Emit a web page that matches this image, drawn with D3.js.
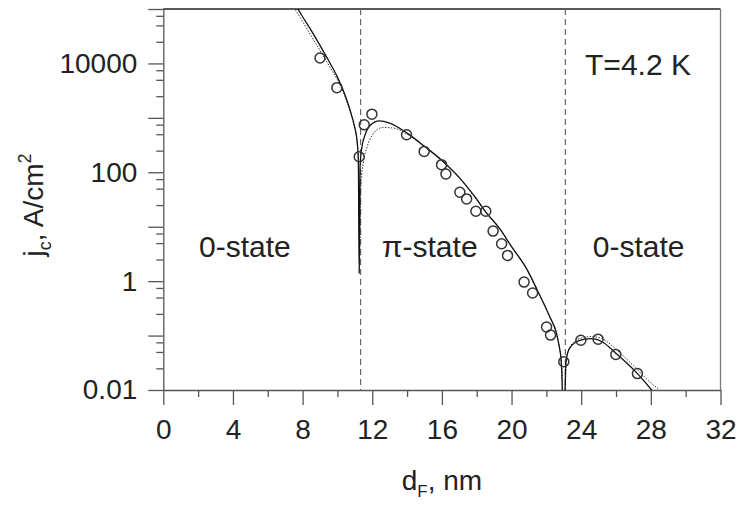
<!DOCTYPE html>
<html>
<head>
<meta charset="utf-8">
<script src="https://cdn.jsdelivr.net/npm/d3@7"></script>
<style>
  body { margin: 0; background: #fff; }
  text { font-family: "Liberation Sans", Arial, sans-serif; fill: #222; }
</style>
</head>
<body>
<div id="vis"></div>
<script>

var width = 741,
  height = 505;

var margin = { left: 163.3, right: 20.5, top: 9, bottom: 115 };

// measured points, d_F (nm) and j_c (A/cm2)
var dF = [ 9.0, 9.97, 11.25, 11.54, 11.98, 13.97, 14.98, 15.98, 16.23, 17.03, 17.42, 17.95, 18.52,
  18.94, 19.43, 19.77, 20.72, 21.21, 22.01, 22.24, 23.0, 23.98, 24.97, 25.99, 27.23 ];
var jc = [ 12600, 3590, 193, 745, 1170, 489, 242, 138, 93, 42.9, 32.4, 19.2, 19.2,
  8.3, 4.87, 2.97, 0.96, 0.605, 0.144, 0.102, 0.033, 0.082, 0.086, 0.045, 0.020 ];

// theory curve 1 (solid)
var solidX = [ 7.5, 8.0, 8.5, 9.0, 9.5, 10.0, 10.4, 10.7, 11.0, 11.1, 11.2, 11.25, 11.3, 11.4, 11.6,
  11.9, 12.4, 13.0, 14.0, 15.0, 16.0, 17.0, 18.0, 18.5, 19.33, 20.0, 20.86, 21.5, 22.2, 22.58,
  22.75, 22.85, 22.9, 22.93, 23.05, 23.08, 23.12, 23.3, 23.7, 24.2, 24.6, 25.2, 26.0, 27.23, 28.04, 28.4 ];
var solidY = [ 1.32e5, 7.2e4, 4.0e4, 2.14e4, 1.12e4, 5600, 2820, 1480, 660, 450, 180, 1.4, 125, 280, 500,
  740, 880, 800, 525, 300, 165, 80, 32, 19, 9.1, 4.3, 1.7, 0.66, 0.22, 0.11,
  0.06, 0.035, 0.015, 0.005, 0.005, 0.012, 0.032, 0.056, 0.076, 0.086, 0.088, 0.077, 0.047, 0.020, 0.010, 0.007 ];

// theory curve 2 (dotted)
var dotX = [ 7.4, 8.0, 8.5, 9.0, 9.5, 10.0, 10.4, 10.7, 11.0, 11.1, 11.2, 11.27, 11.35, 11.5, 11.7,
  12.0, 12.6, 13.2, 14.0, 15.0, 16.0, 17.0, 18.0, 18.5, 19.33, 20.0, 20.86, 21.5, 22.2, 22.58,
  22.75, 22.85, 22.92, 22.95, 23.05, 23.1, 23.15, 23.5, 24.0, 24.6, 25.2, 26.0, 27.0, 28.0, 28.47, 28.7 ];
var dotY = [ 1.2e5, 5.9e4, 3.16e4, 1.74e4, 9300, 5000, 2630, 1410, 630, 430, 160, 2, 60, 160, 290,
  480, 665, 650, 500, 295, 163, 79, 31, 19, 9.1, 4.3, 1.7, 0.66, 0.22, 0.11,
  0.06, 0.035, 0.015, 0.005, 0.005, 0.015, 0.04, 0.072, 0.09, 0.096, 0.088, 0.056, 0.028, 0.0135, 0.010, 0.008 ];

// sign changes of the order parameter
var transitions = [ 11.33, 23.09 ];

var xTicks = [ 0, 4, 8, 12, 16, 20, 24, 28, 32 ];
var xMinorTicks = [ 2, 6, 10, 14, 18, 22, 26, 30 ];
var yTicks = [ 0.01, 0.1, 1, 10, 100, 1000, 10000, 100000 ];
var yLabels = [ '0.01', '1', '100', '10000' ];
var yMinorSteps = [ 2.5, 5, 7.5 ];

var stateLabels = [ '0-state', 'π-state', '0-state' ];
var stateCenters = [ 4.69, 15.3, 27.3 ];

/* Scales */

var x = d3.scaleLinear()
  .domain( [ 0, 32 ] )
  .range( [ margin.left, width - margin.right ] );

var y = d3.scaleLog()
  .domain( [ 0.01, 1e5 ] )
  .range( [ height - margin.bottom, margin.top ] );

var yMinorTicks = [];
yTicks.slice( 0, -1 ).forEach( t => yMinorSteps.forEach( s => yMinorTicks.push( t * s ) ) );

/* Drawing */

var svg = d3.select( '#vis' ).append( 'svg' )
  .attr( 'width', width )
  .attr( 'height', height );

svg.append( 'clipPath' )
  .attr( 'id', 'clip' )
  .append( 'rect' )
    .attr( 'x', x( 0 ) )
    .attr( 'y', y( 1e5 ) )
    .attr( 'width', x( 32 ) - x( 0 ) )
    .attr( 'height', y( 0.01 ) - y( 1e5 ) );

// frame: top and right
svg.append( 'line' )
  .attr( 'x1', x( 0 ) ).attr( 'x2', x( 32 ) )
  .attr( 'y1', y( 1e5 ) ).attr( 'y2', y( 1e5 ) )
  .attr( 'stroke', '#222' ).attr( 'stroke-width', 1.3 );

svg.append( 'line' )
  .attr( 'x1', x( 32 ) ).attr( 'x2', x( 32 ) )
  .attr( 'y1', y( 1e5 ) ).attr( 'y2', y( 0.01 ) )
  .attr( 'stroke', '#777' ).attr( 'stroke-width', 1.3 );

// axes
svg.append( 'g' )
  .attr( 'transform', 'translate(0,' + y( 0.01 ) + ')' )
  .call( d3.axisBottom( x ).tickValues( xTicks ).tickSize( 15 ).tickSizeOuter( 0 ).tickPadding( 14 ) );

svg.append( 'g' )
  .attr( 'transform', 'translate(0,' + y( 0.01 ) + ')' )
  .call( d3.axisBottom( x ).tickValues( xMinorTicks ).tickSize( 7 ).tickSizeOuter( 0 ).tickFormat( '' ) )
  .select( '.domain' ).remove();

svg.append( 'g' )
  .attr( 'transform', 'translate(' + x( 0 ) + ',0)' )
  .call( d3.axisLeft( y ).tickValues( yTicks ).tickSize( 15 ).tickSizeOuter( 0 ).tickPadding( 11 )
    .tickFormat( d => {
      var s = d3.format( '~g' )( d );
      return yLabels.indexOf( s ) >= 0 ? s : '';
    } ) );

svg.append( 'g' )
  .attr( 'transform', 'translate(' + x( 0 ) + ',0)' )
  .call( d3.axisLeft( y ).tickValues( yMinorTicks ).tickSize( 7 ).tickSizeOuter( 0 ).tickFormat( '' ) )
  .select( '.domain' ).remove();

svg.selectAll( '.domain, .tick line' )
  .attr( 'stroke', '#555' )
  .attr( 'stroke-width', 1.3 );

svg.selectAll( '.tick text' )
  .style( 'font-family', '"Liberation Sans", Arial, sans-serif' )
  .style( 'font-size', '28px' )
  .attr( 'fill', '#222' );

// dashed transitions
svg.selectAll( 'line.transition' )
  .data( transitions )
  .enter().append( 'line' )
    .attr( 'class', 'transition' )
    .attr( 'x1', d => x( d ) ).attr( 'x2', d => x( d ) )
    .attr( 'y1', y( 1e5 ) ).attr( 'y2', y( 0.01 ) )
    .attr( 'stroke', '#666' )
    .attr( 'stroke-width', 1.2 )
    .attr( 'stroke-dasharray', '6,4' );

// theory curves
var line = d3.line()
  .x( d => x( d[ 0 ] ) )
  .y( d => y( d[ 1 ] ) )
  .curve( d3.curveMonotoneX );

var plot = svg.append( 'g' ).attr( 'clip-path', 'url(#clip)' );

plot.append( 'path' )
  .datum( dotX.map( ( d, i ) => [ d, dotY[ i ] ] ) )
    .attr( 'd', line )
    .attr( 'fill', 'none' )
    .attr( 'stroke', '#333' )
    .attr( 'stroke-width', 1 )
    .attr( 'stroke-dasharray', '1.5,1.5' );

plot.append( 'path' )
  .datum( solidX.map( ( d, i ) => [ d, solidY[ i ] ] ) )
    .attr( 'd', line )
    .attr( 'fill', 'none' )
    .attr( 'stroke', '#111' )
    .attr( 'stroke-width', 1.3 );

// data
svg.selectAll( 'circle.point' )
  .data( dF )
  .enter().append( 'circle' )
    .attr( 'class', 'point' )
    .attr( 'cx', d => x( d ) )
    .attr( 'cy', ( d, i ) => y( jc[ i ] ) )
    .attr( 'r', 5 )
    .attr( 'fill', 'none' )
    .attr( 'stroke', '#333' )
    .attr( 'stroke-width', 1.5 );

// labels
svg.selectAll( 'text.state' )
  .data( stateLabels )
  .enter().append( 'text' )
    .attr( 'class', 'state' )
    .attr( 'x', ( d, i ) => x( stateCenters[ i ] ) )
    .attr( 'y', 257 )
    .attr( 'text-anchor', 'middle' )
    .style( 'font-size', '30px' )
    .text( d => d );

svg.append( 'text' )
  .attr( 'x', 638 )
  .attr( 'y', 75 )
  .attr( 'text-anchor', 'middle' )
  .style( 'font-size', '30px' )
  .text( 'T=4.2 K' );

var xTitle = svg.append( 'text' )
  .attr( 'x', ( x( 0 ) + x( 32 ) ) / 2 )
  .attr( 'y', 490 )
  .attr( 'text-anchor', 'middle' )
  .style( 'font-size', '28px' );
xTitle.append( 'tspan' ).text( 'd' );
xTitle.append( 'tspan' ).attr( 'dy', 7 ).style( 'font-size', '17px' ).text( 'F' );
xTitle.append( 'tspan' ).attr( 'dy', -7 ).text( ', nm' );

var yTitle = svg.append( 'text' )
  .attr( 'transform', 'translate(43,' + 205 + ') rotate(-90)' )
  .attr( 'text-anchor', 'middle' )
  .style( 'font-size', '28px' );
yTitle.append( 'tspan' ).text( 'j' );
yTitle.append( 'tspan' ).attr( 'dy', 8 ).style( 'font-size', '18px' ).text( 'c' );
yTitle.append( 'tspan' ).attr( 'dy', -8 ).text( ', A/cm' );
yTitle.append( 'tspan' ).attr( 'dy', -12 ).style( 'font-size', '18px' ).text( '2' );

</script>
</body>
</html>
